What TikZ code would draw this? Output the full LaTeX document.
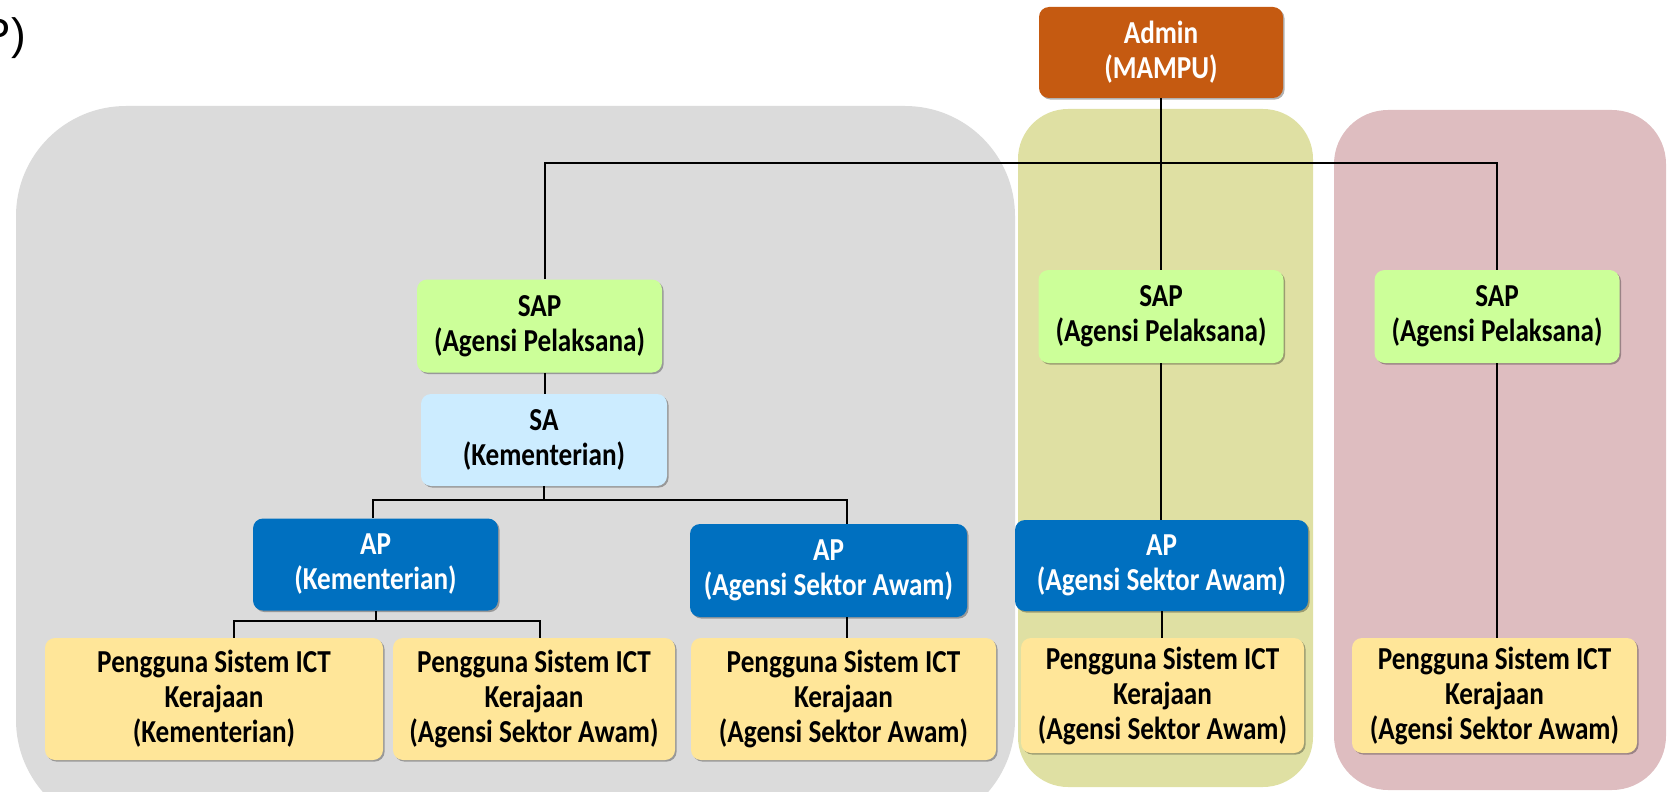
\documentclass[tikz,border=0pt]{standalone}
\usepackage{fontspec}
\setmainfont{Carlito}[FakeStretch=0.85]
\newfontfamily\labelfont{Liberation Sans}
\usetikzlibrary{positioning,shadows}

\definecolor{greybg}{HTML}{DBDBDB}
\definecolor{olivebg}{HTML}{DFE0A3}
\definecolor{pinkbg}{HTML}{DEBDC0}
\definecolor{admincol}{HTML}{C55A11}
\definecolor{sapcol}{HTML}{CCFF99}
\definecolor{sacol}{HTML}{CCECFF}
\definecolor{apcol}{HTML}{0070C0}
\definecolor{usercol}{HTML}{FFE699}

\tikzset{
  box/.style={rounded corners=5pt, align=center, inner sep=0pt,
    font=\bfseries\fontsize{16}{17.5}\selectfont,
    drop shadow={shadow xshift=0.8pt, shadow yshift=-0.8pt, opacity=0.3, fill=black}},
  adminbox/.style={box, fill=admincol, text=white, minimum width=122pt, minimum height=45.5pt},
  sapbox/.style={box, fill=sapcol, minimum width=122.5pt, minimum height=46.5pt},
  sabox/.style={box, fill=sacol, minimum width=123pt, minimum height=46pt},
  apbox/.style={box, fill=apcol, text=white, minimum height=46pt},
  userbox/.style={box, fill=usercol},
  link/.style={line width=1pt}
}

\begin{document}
\begin{tikzpicture}[x=0.5pt, y=-0.5pt]
      \useasboundingbox (0,0) rectangle (1667,792);

      % background panels
      \fill[greybg, rounded corners=55pt] (16,106) rectangle (1015,830);
      \fill[olivebg, rounded corners=25pt] (1018,109) rectangle (1313,787);
      \fill[pinkbg, rounded corners=27pt] (1334,110) rectangle (1666,790);

      \node[anchor=base east, font=\labelfont\fontsize{22}{24}\selectfont] (tag) at (33,50) {P)};

      \node[adminbox] (adm) at (1161,52.5) {Admin\\(MAMPU)};

      \node[sapbox] (sapL) at (539.5,326) {SAP\\(Agensi Pelaksana)};
      \node[sapbox] (sapM) at (1161,316.5) {SAP\\(Agensi Pelaksana)};
      \node[sapbox] (sapR) at (1497,316.5) {SAP\\(Agensi Pelaksana)};

      \node[sabox] (sa) at (544,440) {SA\\(Kementerian)};

      \node[apbox, minimum width=122.5pt] (apL) at (375.5,564.5) {AP\\(Kementerian)};
      \node[apbox, minimum width=138.5pt, minimum height=46.5pt] (apM) at (828.5,570.5) {AP\\(Agensi Sektor Awam)};
      \node[apbox, minimum width=146.5pt, minimum height=45.5pt] (apR) at (1161.5,565.5) {AP\\(Agensi Sektor Awam)};

      \node[userbox, minimum width=169pt, minimum height=61pt] (p1) at (214,699) {Pengguna Sistem ICT\\Kerajaan\\(Kementerian)};
      \node[userbox, minimum width=141pt, minimum height=61pt] (p2) at (534,699) {Pengguna Sistem ICT\\Kerajaan\\(Agensi Sektor Awam)};
      \node[userbox, minimum width=152.5pt, minimum height=61pt] (p3) at (843.5,699) {Pengguna Sistem ICT\\Kerajaan\\(Agensi Sektor Awam)};
      \node[userbox, minimum width=141.5pt, minimum height=57.5pt] (p4) at (1162.5,695.5) {Pengguna Sistem ICT\\Kerajaan\\(Agensi Sektor Awam)};
      \node[userbox, minimum width=142.5pt, minimum height=57.5pt] (p5) at (1494.5,695.5) {Pengguna Sistem ICT\\Kerajaan\\(Agensi Sektor Awam)};

      % connectors
      \coordinate (bus) at (0,163);
      \draw[link] (adm.south) -- (sapM.north);
      \draw[link] ([xshift=2.75pt]sapL.north) |- (bus -| sapR.north) -- (sapR.north);
      \draw[link] ([xshift=2.75pt]sapL.south) -- ([xshift=0.5pt]sa.north);
      \draw[link] (sa.south) -- ++(0,14) coordinate (saBus);
      \draw[link] ([xshift=-1.25pt]apL.north) |- (saBus) -| ([xshift=9.25pt]apM.north);
      \draw[link] (apL.south) -- ++(0,10) coordinate (apBus);
      \draw[link] ([xshift=10pt]p1.north) |- (apBus) -| ([xshift=3pt]p2.north);
      \draw[link] ([xshift=9.25pt]apM.south) -- ([xshift=1.75pt]p3.north);
      \draw[link] (sapM.south) -- (sapM.south |- apR.north);
      \draw[link] (apR.south) -- (apR.south |- p4.north);
      \draw[link] (sapR.south) -- (sapR.south |- p5.north);
\end{tikzpicture}
\end{document}
